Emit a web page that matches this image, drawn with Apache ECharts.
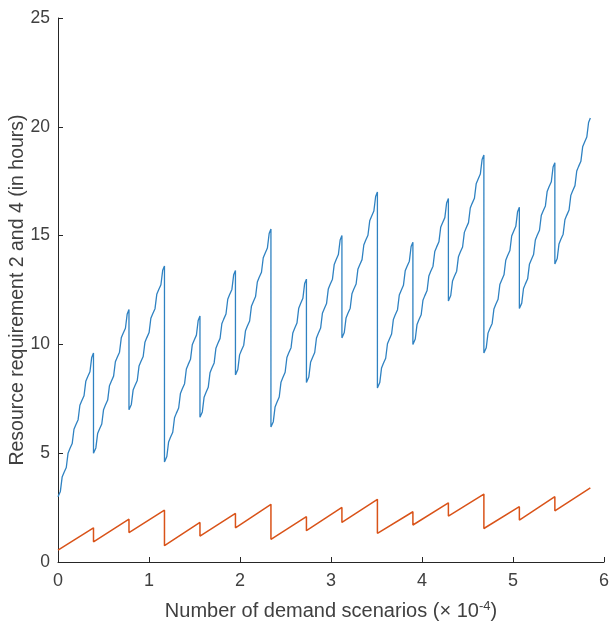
<!DOCTYPE html>
<html>
<head>
<meta charset="utf-8">
<script src="https://cdn.jsdelivr.net/npm/echarts@6/dist/echarts.min.js"></script>
<style>
  html, body { margin: 0; padding: 0; background: #fff; }
  #chart { width: 611px; height: 628px; }
</style>
</head>
<body>
<div id="chart"></div>
<script>
// sub-period boundaries on the x axis (x 10^-4 scenarios)
const boundaries = [0, 0.39, 0.78, 1.17, 1.56, 1.95, 2.34, 2.73, 3.12, 3.51, 3.90, 4.29, 4.68, 5.07, 5.46, 5.85];

// requirement 2: stair levels inside each sub-period
const blueLevels = [
    [3.0, 4.1, 5.2, 6.3, 7.4, 8.5, 9.6],
    [5.0, 6.1, 7.2, 8.3, 9.4, 10.5, 11.6],
    [7.0, 8.1, 9.2, 10.3, 11.4, 12.5, 13.6],
    [4.6, 5.72, 6.83, 7.95, 9.07, 10.18, 11.3],
    [6.65, 7.78, 8.9, 10.03, 11.15, 12.28, 13.4],
    [8.6, 9.72, 10.83, 11.95, 13.07, 14.18, 15.3],
    [6.2, 7.33, 8.47, 9.6, 10.73, 11.87, 13.0],
    [8.25, 9.38, 10.5, 11.63, 12.75, 13.88, 15.0],
    [10.3, 11.42, 12.53, 13.65, 14.77, 15.88, 17.0],
    [8.0, 9.12, 10.23, 11.35, 12.47, 13.58, 14.7],
    [10.0, 11.12, 12.23, 13.35, 14.47, 15.58, 16.7],
    [12.0, 13.12, 14.23, 15.35, 16.47, 17.58, 18.7],
    [9.6, 10.72, 11.83, 12.95, 14.07, 15.18, 16.3],
    [11.65, 12.77, 13.88, 15.0, 16.12, 17.23, 18.35],
    [13.7, 14.82, 15.93, 17.05, 18.17, 19.28, 20.4]
];

// requirement 4: start / end of each sub-period
const orangeStart = [0.55, 0.93, 1.35, 0.75, 1.19, 1.57, 1.04, 1.44, 1.82, 1.32, 1.70, 2.11, 1.54, 1.93, 2.35];
const orangeEnd = [1.57, 1.97, 2.38, 1.82, 2.23, 2.65, 2.08, 2.51, 2.88, 2.31, 2.72, 3.12, 2.54, 3.0, 3.41];

const xTicks = [0, 1, 2, 3, 4, 5, 6];
const yTicks = [0, 5, 10, 15, 20, 25];

// build the blue stair line: each step has a gentle part and a steeper rise
let blueData = [];
blueLevels.forEach(function (levels, i) {
    let a = boundaries[i], b = boundaries[i + 1];
    let steps = levels.length - 1;
    let dx = (b - a) / steps;
    blueData.push([a, levels[0]]);
    for (let k = 0; k < steps; k++) {
        let d = levels[k + 1] - levels[k];
        let x0 = a + k * dx;
        blueData.push([x0 + 0.4 * dx, levels[k] + 0.22 * d]);
        blueData.push([x0 + 0.7 * dx, levels[k] + 0.82 * d]);
        blueData.push([x0 + dx, levels[k + 1]]);
    }
});

let orangeData = [];
orangeStart.forEach(function (s, i) {
    orangeData.push([boundaries[i], s]);
    orangeData.push([boundaries[i + 1], orangeEnd[i]]);
});

const textColor = '#404040';
const font = 'Arial, "Liberation Sans", sans-serif';

let chart = echarts.init(document.getElementById('chart'));
chart.setOption({
    animation: false,
    backgroundColor: '#ffffff',
    grid: { left: 58, right: 7, top: 18, bottom: 66, containLabel: false, outerBoundsMode: 'none' },
    xAxis: {
        type: 'value',
        min: xTicks[0],
        max: xTicks[xTicks.length - 1],
        interval: 1,
        name: '{a|Number of demand scenarios (× 10}{s|-4}{a|)}',
        nameLocation: 'middle',
        nameGap: 38,
        nameMoveOverlap: false,
        nameTextStyle: {
            rich: {
                a: { fontSize: 20, color: textColor, fontFamily: font },
                s: { fontSize: 13, color: textColor, fontFamily: font, padding: [0, 0, 10, 0] }
            }
        },
        axisLine: { show: true, lineStyle: { color: '#262626', width: 1 } },
        axisTick: { show: true, inside: true, length: 5, lineStyle: { color: '#262626' } },
        axisLabel: { color: textColor, fontSize: 18, fontFamily: font, margin: 10 },
        splitLine: { show: false }
    },
    yAxis: {
        type: 'value',
        min: yTicks[0],
        max: yTicks[yTicks.length - 1],
        interval: 5,
        name: 'Resource requirement 2 and 4 (in hours)',
        nameLocation: 'middle',
        nameGap: 30,
        nameMoveOverlap: false,
        nameTextStyle: { fontSize: 19.5, color: textColor, fontFamily: font },
        axisLine: { show: true, lineStyle: { color: '#262626', width: 1 } },
        axisTick: { show: true, inside: true, length: 5, lineStyle: { color: '#262626' } },
        axisLabel: { color: textColor, fontSize: 17.5, fontFamily: font, margin: 8 },
        splitLine: { show: false }
    },
    series: [
        {
            name: 'Requirement 2',
            type: 'line',
            data: blueData,
            showSymbol: false,
            lineStyle: { color: '#2f82c2', width: 1.3 },
            z: 2
        },
        {
            name: 'Requirement 4',
            type: 'line',
            data: orangeData,
            showSymbol: false,
            lineStyle: { color: '#D95319', width: 1.5 },
            z: 3
        }
    ]
});
</script>
</body>
</html>
